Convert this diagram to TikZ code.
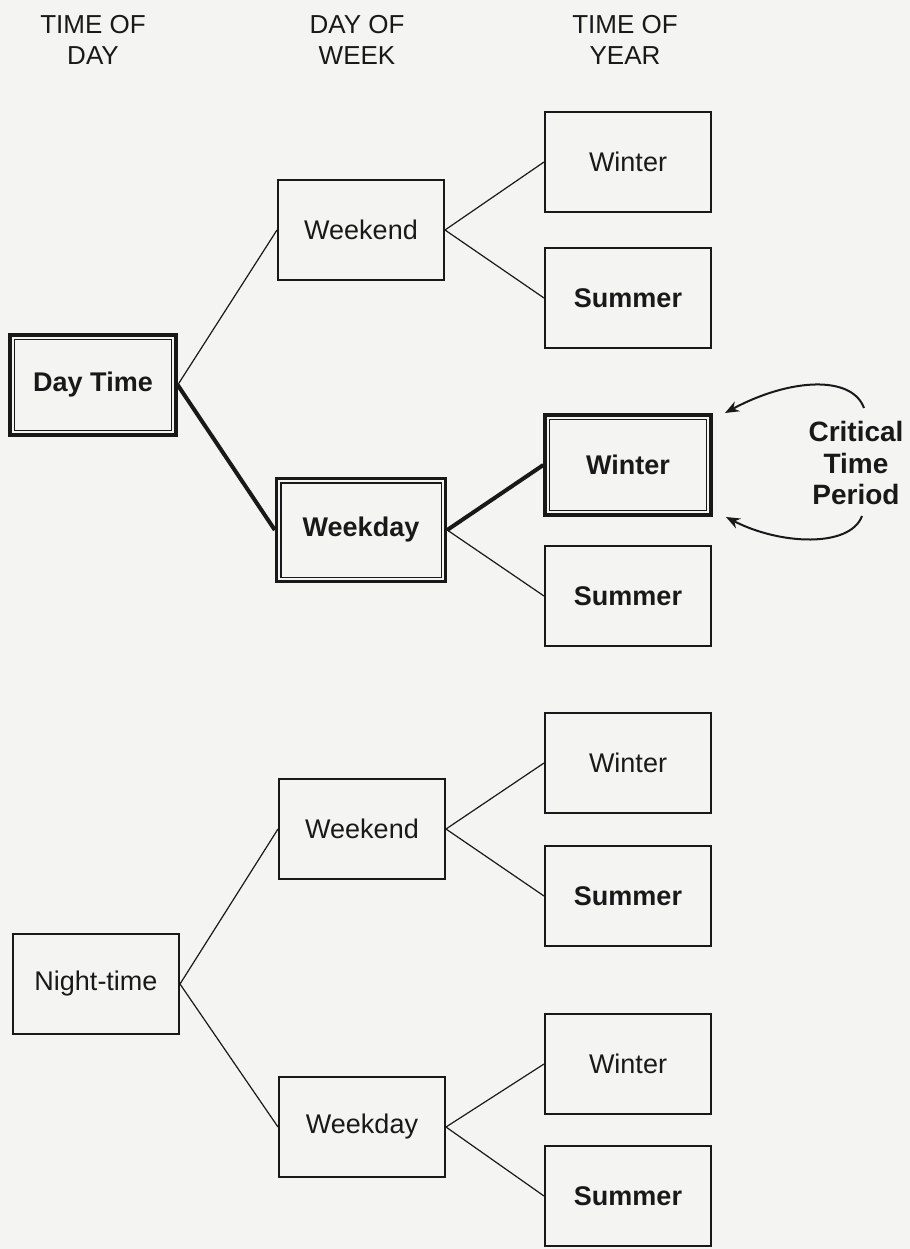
\documentclass[tikz,border=0pt]{standalone}
\usepackage{fontspec}
\setmainfont{Liberation Sans}
\usetikzlibrary{arrows.meta}
\definecolor{bgcol}{RGB}{244,244,242}
\definecolor{ink}{RGB}{25,25,25}
\begin{document}
\begin{tikzpicture}[x=0.5pt,y=-0.5pt,
  box/.style={draw=ink, line width=1pt, minimum width=83pt, minimum height=50pt, inner sep=0pt, text=ink, font=\fontsize{13.5}{15}\selectfont},
  boldbox/.style={box, font=\fontsize{13.5}{15}\selectfont\bfseries},
  critbox/.style={boldbox, line width=1.7pt},
  innerframe/.style={draw=ink, line width=0.7pt},
  link/.style={draw=ink, line width=0.6pt},
  critlink/.style={draw=ink, line width=2pt},
  hdr/.style={align=center, text=ink, font=\fontsize{13}{15.5}\selectfont},
  crit/.style={align=center, text=ink, font=\fontsize{14}{15.75}\selectfont\bfseries},
  arr/.style={draw=ink, line width=1pt, -{Stealth[length=7pt,width=5.5pt]}}]
\fill[bgcol] (0,0) rectangle (910,1249);
\useasboundingbox (0,0) rectangle (910,1249);

% headers
\node[hdr] (h1) at (93,40) {TIME OF\\DAY};
\node[hdr] (h2) at (357,40) {DAY OF\\WEEK};
\node[hdr] (h3) at (625,40) {TIME OF\\YEAR};

% time of day
\node[critbox] (dt) at (93,385) {Day Time};
\node[box] (nt) at (96,984) {Night-time};

% day of week
\node[box] (we1) at (361,230) {Weekend};
\node[critbox, minimum width=84.5pt, minimum height=51.5pt] (wd1) at (361,530) {Weekday};
\node[box] (we2) at (362,829) {Weekend};
\node[box] (wd2) at (362,1127) {Weekday};

% time of year
\node[box] (w1) at (628,162) {Winter};
\node[boldbox] (s1) at (628,298) {Summer};
\node[critbox] (w2) at (628,465) {Winter};
\node[boldbox] (s2) at (628,596) {Summer};
\node[box] (w3) at (628,763) {Winter};
\node[boldbox] (s3) at (628,896) {Summer};
\node[box] (w4) at (628,1064) {Winter};
\node[boldbox] (s4) at (628,1196) {Summer};

% inner frames of critical boxes
\foreach \n in {dt,wd1,w2}{
  \draw[innerframe] ([shift={(6,6)}]\n.north west) rectangle ([shift={(-6,-6)}]\n.south east);
}

% connectors
\draw[link] (dt.east) -- (we1.west);
\draw[critlink] (dt.east) -- (wd1.west);
\draw[link] (we1.east) -- (w1.west);
\draw[link] (we1.east) -- (s1.west);
\draw[critlink] (wd1.east) -- (w2.west);
\draw[link] (wd1.east) -- (s2.west);
\draw[link] (nt.east) -- (we2.west);
\draw[link] (nt.east) -- (wd2.west);
\draw[link] (we2.east) -- (w3.west);
\draw[link] (we2.east) -- (s3.west);
\draw[link] (wd2.east) -- (w4.west);
\draw[link] (wd2.east) -- (s4.west);

% critical time period
\node[crit] (ct) at (856,463) {Critical\\Time\\Period};
\coordinate (a1s) at (864,408);
\coordinate (a1e) at (725,413);
\coordinate (a2s) at (862,516);
\coordinate (a2e) at (726,517);
\draw[arr] (a1s) .. controls (852,375) and (790,378) .. (a1e);
\draw[arr] (a2s) .. controls (850,548) and (780,545) .. (a2e);
\end{tikzpicture}
\end{document}
